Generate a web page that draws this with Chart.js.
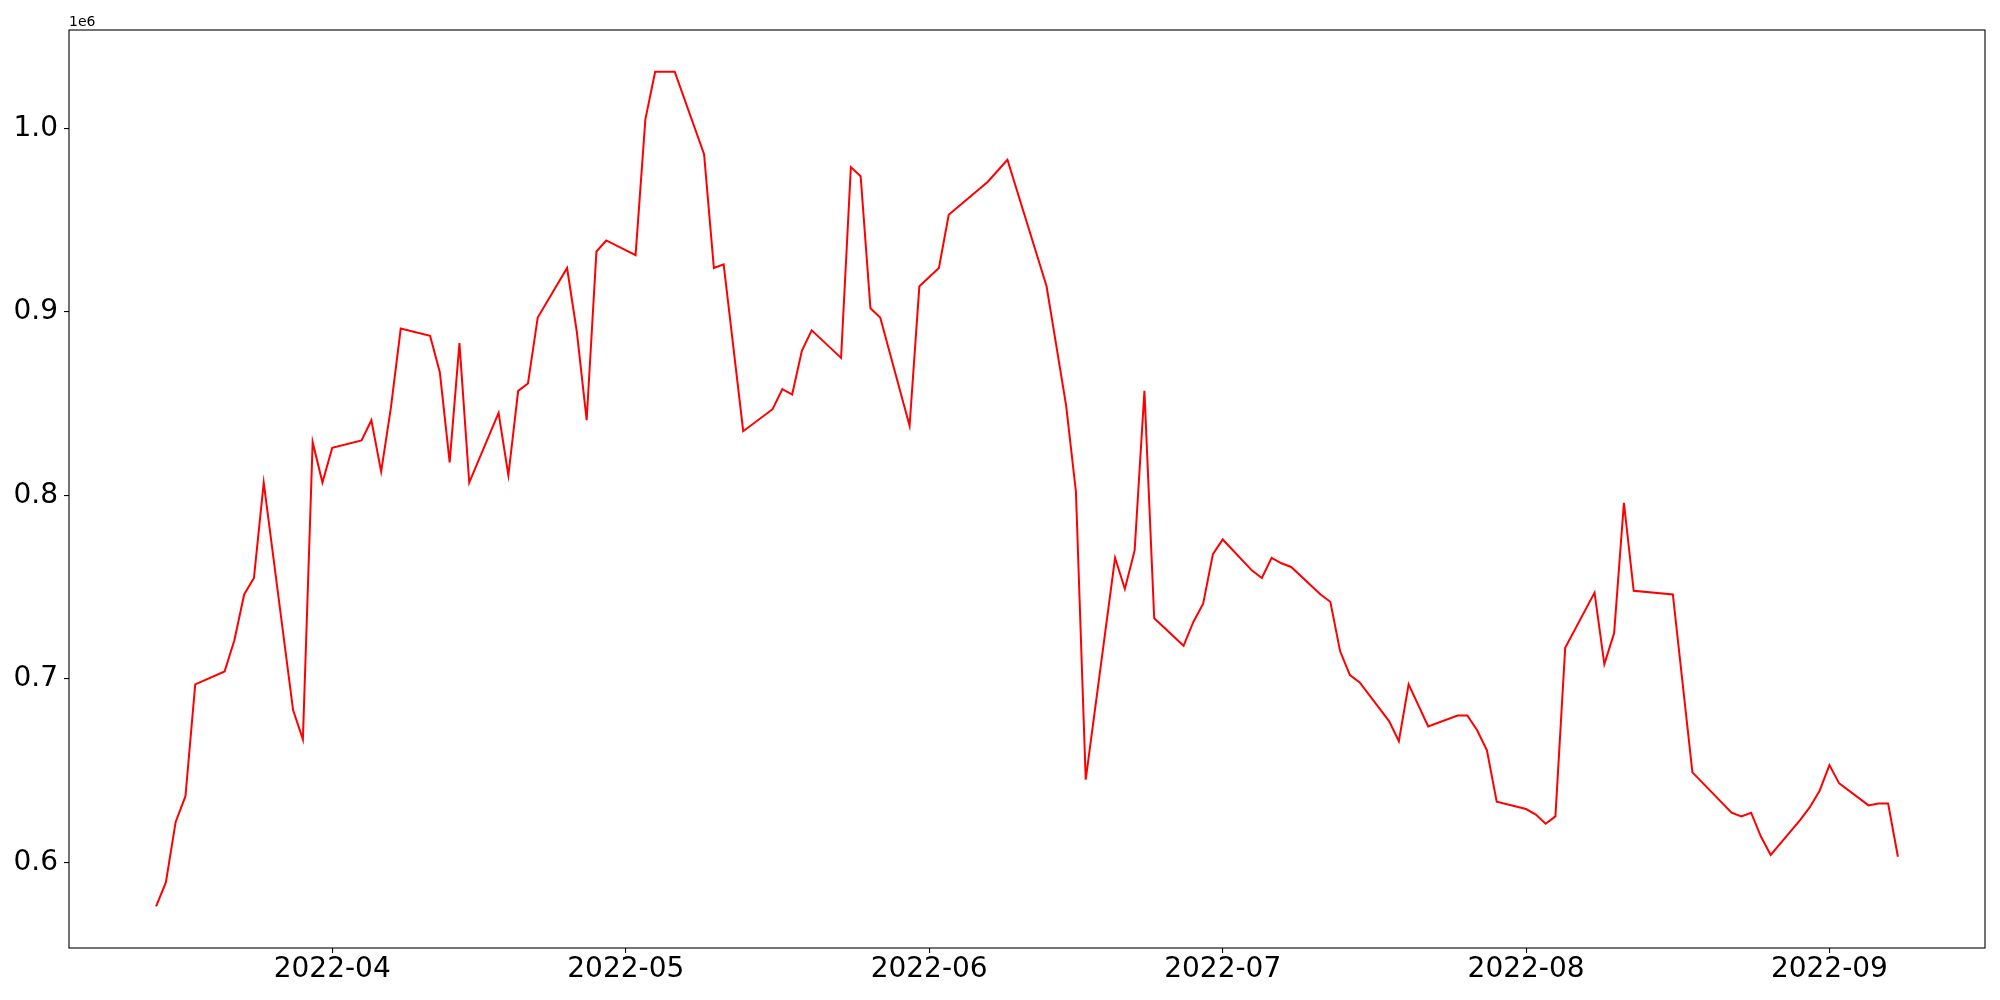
<!DOCTYPE html>
<html>
<head>
<meta charset="utf-8">
<script src="https://cdn.jsdelivr.net/npm/chart.js@4/dist/chart.umd.min.js"></script>
<style>
  html, body { margin: 0; padding: 0; background: #fff; }
  canvas { display: block; }
</style>
</head>
<body>
<canvas id="chart" width="2000" height="1000"></canvas>
<script>
const dates = [
  '2022-03-14', '2022-03-15', '2022-03-16', '2022-03-17', '2022-03-18',
  '2022-03-21', '2022-03-22', '2022-03-23', '2022-03-24', '2022-03-25',
  '2022-03-28', '2022-03-29', '2022-03-30', '2022-03-31', '2022-04-01',
  '2022-04-04', '2022-04-05', '2022-04-06', '2022-04-07', '2022-04-08',
  '2022-04-11', '2022-04-12', '2022-04-13', '2022-04-14', '2022-04-15',
  '2022-04-18', '2022-04-19', '2022-04-20', '2022-04-21', '2022-04-22',
  '2022-04-25', '2022-04-26', '2022-04-27', '2022-04-28', '2022-04-29',
  '2022-05-02', '2022-05-03', '2022-05-04', '2022-05-06',
  '2022-05-09', '2022-05-10', '2022-05-11', '2022-05-13',
  '2022-05-16', '2022-05-17', '2022-05-18', '2022-05-19', '2022-05-20',
  '2022-05-23', '2022-05-24', '2022-05-25', '2022-05-26', '2022-05-27',
  '2022-05-30', '2022-05-31', '2022-06-02', '2022-06-03',
  '2022-06-07', '2022-06-08', '2022-06-09',
  '2022-06-13', '2022-06-15', '2022-06-16', '2022-06-17',
  '2022-06-20', '2022-06-21', '2022-06-22', '2022-06-23', '2022-06-24',
  '2022-06-27', '2022-06-28', '2022-06-29', '2022-06-30', '2022-07-01',
  '2022-07-04', '2022-07-05', '2022-07-06', '2022-07-07', '2022-07-08',
  '2022-07-11', '2022-07-12', '2022-07-13', '2022-07-14', '2022-07-15',
  '2022-07-18', '2022-07-19', '2022-07-20', '2022-07-22',
  '2022-07-25', '2022-07-26', '2022-07-27', '2022-07-28', '2022-07-29',
  '2022-08-01', '2022-08-02', '2022-08-03', '2022-08-04', '2022-08-05',
  '2022-08-08', '2022-08-09', '2022-08-10', '2022-08-11', '2022-08-12',
  '2022-08-16', '2022-08-18',
  '2022-08-22', '2022-08-23', '2022-08-24', '2022-08-25', '2022-08-26',
  '2022-08-29', '2022-08-30', '2022-08-31', '2022-09-01', '2022-09-02',
  '2022-09-05', '2022-09-06', '2022-09-07', '2022-09-08'
];

const values = [
  576000, 589000, 622000, 636000, 697000,
  704000, 721000, 746000, 755000, 807000,
  683000, 667000, 829000, 807000, 826000,
  830000, 841000, 813000, 848000, 891000,
  887000, 867000, 818000, 883000, 807000,
  845000, 811000, 857000, 861000, 897000,
  924000, 889000, 841000, 933000, 939000,
  931000, 1005000, 1031000, 1031000,
  986000, 924000, 926000, 835000,
  847000, 858000, 855000, 879000, 890000,
  875000, 979000, 974000, 902000, 897000,
  838000, 914000, 924000, 953000,
  971000, 977000, 983000,
  914000, 849000, 802000, 645000,
  766000, 749000, 770000, 857000, 733000,
  718000, 731000, 741000, 768000, 776000,
  759000, 755000, 766000, 763000, 761000,
  746000, 742000, 715000, 702000, 698000,
  677000, 666000, 697000, 674000,
  680000, 680000, 672000, 661000, 633000,
  629000, 626000, 621000, 625000, 717000,
  747000, 708000, 725000, 796000, 748000,
  746000, 649000,
  627000, 625000, 627000, 614000, 604000,
  623000, 630000, 639000, 653000, 643000,
  631000, 632000, 632000, 603000
];

const monthTicks = ['2022-04-01', '2022-05-01', '2022-06-01', '2022-07-01', '2022-08-01', '2022-09-01'];
const yTicks = [600000, 700000, 800000, 900000, 1000000];

const DAY = 86400000;
const toDay = s => Date.parse(s + 'T00:00:00Z') / DAY;

const xs = dates.map(toDay);
const points = xs.map((x, i) => ({ x, y: values[i] }));

// matplotlib-like 5% margins
const xSpan = xs[xs.length - 1] - xs[0];
const yLo = Math.min(...values), yHi = Math.max(...values);
const ySpan = yHi - yLo;

const FONT = 'DejaVu Sans';

// frame on all four sides + the "1e6" offset label
const framePlugin = {
  id: 'frame',
  afterDraw(chart) {
    const { ctx, chartArea: a } = chart;
    ctx.save();
    ctx.strokeStyle = '#000';
    ctx.lineWidth = 1.1;
    ctx.strokeRect(a.left, a.top, a.right - a.left, a.bottom - a.top);
    ctx.fillStyle = '#000';
    ctx.font = '14px "' + FONT + '"';
    ctx.textAlign = 'left';
    ctx.textBaseline = 'alphabetic';
    ctx.fillText('1e6', a.left, a.top - 4);
    ctx.restore();
  }
};

new Chart(document.getElementById('chart'), {
  type: 'line',
  data: {
    datasets: [{
      data: points,
      borderColor: '#ff0000',
      borderWidth: 2,
      pointRadius: 0,
      tension: 0,
      fill: false
    }]
  },
  options: {
    responsive: false,
    animation: false,
    devicePixelRatio: 1,
    layout: { padding: { top: 30, right: 15, left: 0, bottom: 0 } },
    plugins: {
      legend: { display: false },
      tooltip: { enabled: false }
    },
    scales: {
      x: {
        type: 'linear',
        min: xs[0] - 0.05 * xSpan,
        max: xs[xs.length - 1] + 0.05 * xSpan,
        afterBuildTicks: scale => { scale.ticks = monthTicks.map(m => ({ value: toDay(m) })); },
        afterFit: scale => { scale.height = 52; },
        ticks: {
          color: '#000',
          font: { family: FONT, size: 28 },
          padding: 0,
          maxRotation: 0,
          autoSkip: false,
          callback: v => new Date(v * DAY).toISOString().slice(0, 7)
        },
        grid: { drawOnChartArea: false, tickLength: 5, color: '#000', lineWidth: 1.1 },
        border: { display: false }
      },
      y: {
        type: 'linear',
        min: yLo - 0.05 * ySpan,
        max: yHi + 0.05 * ySpan,
        afterBuildTicks: scale => { scale.ticks = yTicks.map(v => ({ value: v })); },
        afterFit: scale => { scale.width = 69; },
        ticks: {
          color: '#000',
          font: { family: FONT, size: 28 },
          padding: 6,
          callback: v => (v / 1e6).toFixed(1)
        },
        grid: { drawOnChartArea: false, tickLength: 5, color: '#000', lineWidth: 1.1 },
        border: { display: false }
      }
    }
  },
  plugins: [framePlugin]
});
</script>
</body>
</html>
